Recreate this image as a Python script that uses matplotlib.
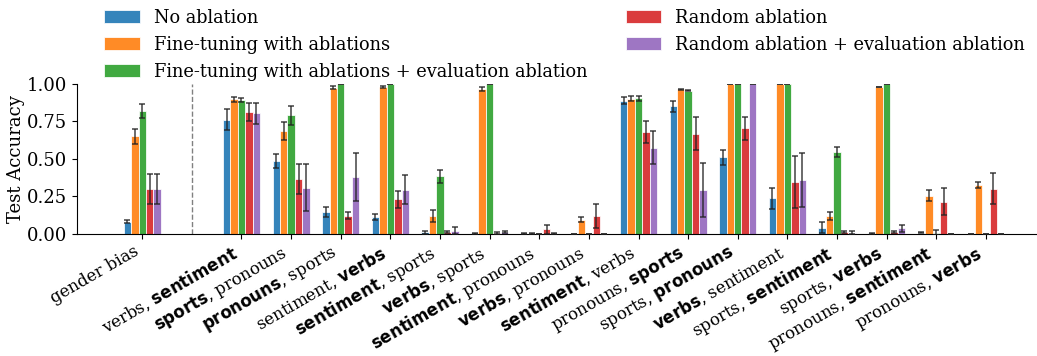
import numpy as np
import matplotlib
matplotlib.use("Agg")
import matplotlib.pyplot as plt

plt.rcParams['font.family'] = ['DejaVu Serif']
plt.rcParams['mathtext.fontset'] = 'dejavusans'
plt.rcParams['font.size'] = 12

labels = ['gender bias',
          r'verbs, $\mathbf{sentiment}$',
          r'$\mathbf{sports}$, pronouns',
          r'$\mathbf{pronouns}$, sports',
          r'sentiment, $\mathbf{verbs}$',
          r'$\mathbf{sentiment}$, sports',
          r'$\mathbf{verbs}$, sports',
          r'$\mathbf{sentiment}$, pronouns',
          r'$\mathbf{verbs}$, pronouns',
          r'$\mathbf{sentiment}$, verbs',
          r'pronouns, $\mathbf{sports}$',
          r'sports, $\mathbf{pronouns}$',
          r'$\mathbf{verbs}$, sentiment',
          r'sports, $\mathbf{sentiment}$',
          r'sports, $\mathbf{verbs}$',
          r'pronouns, $\mathbf{sentiment}$',
          r'pronouns, $\mathbf{verbs}$']

series_names = ['No ablation', 'Fine-tuning with ablations',
                'Fine-tuning with ablations + evaluation ablation',
                'Random ablation', 'Random ablation + evaluation ablation']

no_ablation = [0.08, 0.76, 0.487, 0.144, 0.111, 0.011, 0.004, 0.002, 0.0, 0.889, 0.851, 0.511, 0.238, 0.042, 0.004, 0.009, 0.0]
no_ablation_err = [0.01, 0.07, 0.047, 0.033, 0.02, 0.01, 0.003, 0.002, 0.0, 0.022, 0.035, 0.049, 0.069, 0.037, 0.003, 0.006, 0.0]
ft_ablation = [0.653, 0.898, 0.687, 0.976, 0.98, 0.122, 0.964, 0.002, 0.096, 0.902, 0.964, 0.999, 0.999, 0.118, 0.98, 0.256, 0.329]
ft_ablation_err = [0.05, 0.015, 0.06, 0.01, 0.004, 0.04, 0.013, 0.002, 0.017, 0.018, 0.005, 0.0, 0.0, 0.025, 0.003, 0.037, 0.02]
ft_eval = [0.82, 0.893, 0.79, 0.999, 0.999, 0.384, 0.999, 0.001, 0.0, 0.904, 0.956, 0.999, 0.999, 0.549, 0.999, 0.009, 0.001]
ft_eval_err = [0.045, 0.015, 0.062, 0.0, 0.0, 0.045, 0.0, 0.001, 0.0, 0.018, 0.003, 0.0, 0.0, 0.033, 0.0, 0.018, 0.0]
random_abl = [0.298, 0.81, 0.369, 0.122, 0.231, 0.011, 0.007, 0.031, 0.122, 0.68, 0.669, 0.704, 0.347, 0.013, 0.011, 0.216, 0.302]
random_abl_err = [0.1, 0.06, 0.1, 0.025, 0.055, 0.005, 0.005, 0.03, 0.08, 0.073, 0.112, 0.077, 0.171, 0.009, 0.008, 0.088, 0.103]
random_eval = [0.298, 0.804, 0.309, 0.38, 0.296, 0.022, 0.01, 0.002, 0.0, 0.576, 0.293, 0.999, 0.362, 0.009, 0.036, 0.001, 0.001]
random_eval_err = [0.1, 0.07, 0.157, 0.16, 0.095, 0.022, 0.006, 0.002, 0.0, 0.108, 0.18, 0.0, 0.18, 0.008, 0.024, 0.001, 0.0]

values = [no_ablation, ft_ablation, ft_eval, random_abl, random_eval]
errors = [no_ablation_err, ft_ablation_err, ft_eval_err, random_abl_err, random_eval_err]
colors = ['tab:blue', 'tab:orange', 'tab:green', 'tab:red', 'tab:purple']

positions = np.array([0] + list(range(2, 2 + len(labels) - 1)), dtype=float)
width = 0.15

fig = plt.figure(figsize=(10.37, 3.56), dpi=100)
ax = fig.add_axes([0.074, 0.343, 0.926, 0.421])

for i, (vals, errs, c, name) in enumerate(zip(values, errors, colors, series_names)):
    x = positions + (i - 2) * width
    ax.bar(x, vals, width, color=c, alpha=0.9, edgecolor='white', linewidth=0.6,
           label=name, zorder=2)
    ax.errorbar(x, vals, yerr=errs, fmt='none', ecolor='#222222', elinewidth=1.1,
                capsize=2.5, capthick=1.1, alpha=0.85, zorder=3)

ax.axvline(1, color='gray', linestyle='--', linewidth=1, zorder=1)

ax.set_xlim(-1.32, 18.03)
ax.set_ylim(0, 1.0)
ax.set_yticks([0, 0.25, 0.5, 0.75, 1.0])
ax.set_yticklabels(['0.00', '0.25', '0.50', '0.75', '1.00'], fontsize=13)
ax.set_ylabel('Test Accuracy', fontsize=13, labelpad=1)
ax.set_xticks(positions)
ax.set_xticklabels(labels, rotation=30, ha='right', fontsize=12)
ax.tick_params(axis='x', pad=3)
ax.spines['top'].set_visible(False)
ax.spines['right'].set_visible(False)

fig.legend(loc='upper left', bbox_to_anchor=(0.085, 1.02), ncol=2, frameon=False,
           fontsize=12.8, columnspacing=2.15, handlelength=2.0, labelspacing=0.5)

fig.savefig('out.png', dpi=100)
